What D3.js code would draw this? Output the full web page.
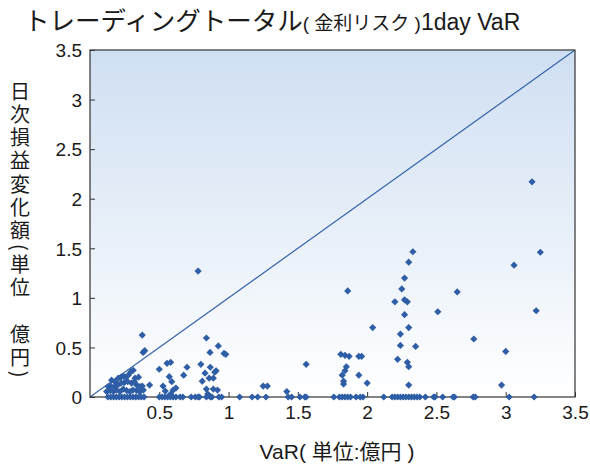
<!DOCTYPE html>
<html><head><meta charset="utf-8">
<script src="https://cdn.jsdelivr.net/npm/d3@7"></script>
<style>
body{margin:0;background:#fff;}
text{font-family:"Liberation Sans",Arial,"Noto Sans CJK JP",sans-serif;fill:#1a1a1a;}
</style></head>
<body><svg id="c" width="590" height="466"></svg>
<script>
// VaR (x, 億円) and daily P&L change (y, 億円)
const varX = [
  0.377,0.383,0.395,0.78,0.43,
  0.50,0.556,0.582,0.572,0.59,0.527,0.543,0.62,0.582,0.60,0.70,0.676,
  0.84,0.926,0.866,0.967,0.98,0.80,0.868,0.91,0.90,0.83,0.86,0.89,0.81,0.84,0.89,0.92,0.85,0.86,
  1.25,1.28,1.42,1.56,
  1.86,1.81,1.84,1.87,1.94,1.96,1.85,1.84,1.82,1.83,1.83,1.94,2.00,2.04,
  2.25,2.20,2.27,2.29,2.27,2.30,2.24,2.24,2.35,2.22,2.29,2.30,2.30,2.33,2.30,2.27,
  2.65,2.51,3.19,3.25,3.06,3.22,2.77,3.00,2.97,
  0.156,0.18,0.204,0.224,0.24,0.258,0.276,0.296,0.312,0.325,0.32,0.35,
  0.132,0.15,0.175,0.20,0.224,0.247,0.272,0.30,0.337,0.36,0.377,
  0.12,0.144,0.168,0.19,0.216,0.24,0.265,0.289,0.31,0.337,0.36,0.385,
  0.13,0.15,0.17,0.19,0.21,0.23,0.25,0.27,0.29,0.31,0.33,0.35,0.37,0.39,
  0.50,0.52,0.54,0.56,0.58,0.60,0.62,0.65,0.67,0.73,0.76,0.78,0.79,0.84,0.87,0.88,0.93,0.95,
  1.08,1.17,1.21,1.27,1.43,1.455,1.515,1.55,1.56,
  1.76,1.80,1.82,1.84,1.86,1.88,1.92,1.95,1.97,
  2.12,2.18,2.20,2.22,2.24,2.26,2.28,2.30,2.32,2.34,2.36,2.38,2.42,2.48,2.49,2.545,2.62,2.63,2.765,2.78,3.025,3.205
];
const pnlY = [
  0.625,0.45,0.467,1.27,0.12,
  0.28,0.34,0.35,0.205,0.155,0.11,0.06,0.09,0.03,0.07,0.30,0.22,
  0.595,0.515,0.45,0.44,0.43,0.33,0.30,0.265,0.25,0.24,0.19,0.19,0.16,0.08,0.08,0.07,0.03,0.01,
  0.11,0.11,0.055,0.33,
  1.07,0.43,0.42,0.41,0.41,0.41,0.305,0.265,0.22,0.16,0.13,0.22,0.14,0.70,
  1.09,0.96,0.98,0.96,0.83,0.70,0.635,0.52,0.51,0.38,0.35,0.305,0.12,1.465,1.36,1.20,
  1.06,0.86,2.17,1.46,1.33,0.87,0.585,0.46,0.12,
  0.17,0.155,0.19,0.20,0.21,0.20,0.22,0.255,0.27,0.19,0.155,0.20,
  0.105,0.11,0.10,0.12,0.14,0.145,0.155,0.14,0.12,0.105,0.11,
  0.055,0.065,0.055,0.07,0.055,0.08,0.065,0.055,0.07,0.065,0.055,0.07,
  0,0,0,0,0,0,0,0,0,0,0,0,0,0,
  0,0,0,0,0,0,0,0,0,0,0,0,0,0,0,0,0,0,
  0,0,0,0,0,0,0,0,0,
  0,0,0,0,0,0,0,0,0,
  0,0,0,0,0,0,0,0,0,0,0,0,0,0,0,0,0,0,0,0,0,0
];
const xTicks = [0.5,1,1.5,2,2.5,3,3.5];
const yTicks = [0,0.5,1,1.5,2,2.5,3,3.5];
const diagonal = [[0,0],[3.5,3.5]];

const svg = d3.select("#c");
const L=90, R=575, T=50, B=397;
const x = d3.scaleLinear().domain([0,3.5]).range([L,R]);
const y = d3.scaleLinear().domain([0,3.5]).range([B,T]);

const defs = svg.append("defs");
const grad = defs.append("linearGradient").attr("id","bg").attr("x1",0).attr("y1",0).attr("x2",0).attr("y2",1);
grad.append("stop").attr("offset","0%").attr("stop-color","#cfdff2");
grad.append("stop").attr("offset","100%").attr("stop-color","#ffffff");
defs.append("clipPath").attr("id","clip").append("rect").attr("x",L).attr("y",T).attr("width",R-L).attr("height",B-T);

svg.append("rect").attr("x",L).attr("y",T).attr("width",R-L).attr("height",B-T).attr("fill","url(#bg)");

// diagonal
svg.append("path").datum(diagonal)
  .attr("d", d3.line().x(d=>x(d[0])).y(d=>y(d[1])))
  .attr("stroke","#3563a8").attr("stroke-width",1.2).attr("fill","none").attr("clip-path","url(#clip)");

// axes
const xa = svg.append("g").attr("transform",`translate(0,${B})`)
  .call(d3.axisBottom(x).tickValues(xTicks).tickFormat(d3.format("")).tickSizeInner(-5).tickSizeOuter(0).tickPadding(9));
const ya = svg.append("g").attr("transform",`translate(${L},0)`)
  .call(d3.axisLeft(y).tickValues(yTicks).tickFormat(d3.format("")).tickSizeInner(-5).tickSizeOuter(0).tickPadding(8));
[xa,ya].forEach(g=>{
  g.select(".domain").remove();
  g.selectAll(".tick line").attr("stroke","#333");
  g.selectAll("text").attr("font-size",19).attr("fill","#111").style("font-family","'Liberation Sans',Arial,sans-serif");
});
ya.selectAll(".tick text").attr("dy","0.36em");

// border
svg.append("rect").attr("x",L).attr("y",T).attr("width",R-L).attr("height",B-T)
  .attr("fill","none").attr("stroke","#333").attr("stroke-width",1.2);

// points
const pts = varX.map((v,i)=>[v,pnlY[i]]);
const s = 3.6;
svg.append("g").selectAll("path").data(pts).join("path")
  .attr("d", d=>{const cx=x(d[0]), cy=y(d[1]); return `M${cx},${cy-s}L${cx+s},${cy}L${cx},${cy+s}L${cx-s},${cy}Z`;})
  .attr("fill","#2f5ea6");

// title
const t = svg.append("text").attr("x",24).attr("y",30);
t.append("tspan").attr("font-size",25.5).text("トレーディングトータル");
t.append("tspan").attr("font-size",19).text("( 金利リスク )");
t.append("tspan").attr("font-size",23).text("1day VaR");

// x label
svg.append("text").attr("x",337).attr("y",459).attr("text-anchor","middle").attr("font-size",21)
  .text("VaR( 単位:億円 )");

// y label (vertical)
svg.append("text").attr("x",20).attr("y",81)
  .attr("writing-mode","vertical-rl")
  .attr("font-size",20).attr("letter-spacing",3.3)
  .style("font-family","'Noto Sans CJK JP',sans-serif")
  .text("日次損益変化額(単位　億円)");
</script></body></html>
